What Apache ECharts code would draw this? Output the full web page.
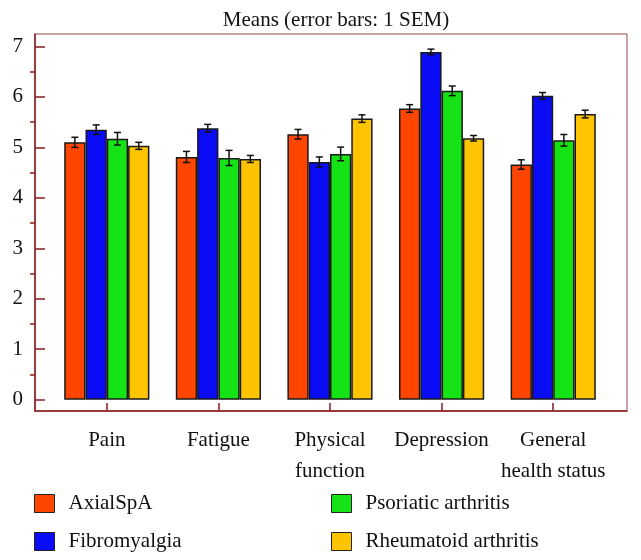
<!DOCTYPE html>
<html>
<head>
<meta charset="utf-8">
<script src="https://cdn.jsdelivr.net/npm/echarts@6/dist/echarts.min.js"></script>
<style>
html, body { margin: 0; padding: 0; background: #fff; }
#main { width: 641px; height: 560px; }
</style>
</head>
<body>
<div id="main"></div>
<script>
// data
var categories = ['Pain', 'Fatigue', 'Physical\nfunction', 'Depression', 'General\nhealth status'];
var groupNames = ['AxialSpA', 'Fibromyalgia', 'Psoriatic arthritis', 'Rheumatoid arthritis'];
var groupColors = ['#ff4500', '#0a0cf5', '#16e316', '#ffc400'];

var axialMean = [5.10, 4.81, 5.26, 5.77, 4.66];
var axialSem = [0.10, 0.11, 0.095, 0.076, 0.093];
var fibroMean = [5.35, 5.38, 4.71, 6.89, 6.02];
var fibroSem = [0.095, 0.075, 0.10, 0.056, 0.066];
var psoMean = [5.17, 4.79, 4.87, 6.12, 5.14];
var psoSem = [0.125, 0.15, 0.135, 0.095, 0.115];
var raMean = [5.03, 4.77, 5.57, 5.18, 5.66];
var raSem = [0.07, 0.07, 0.075, 0.055, 0.076];

var yTicks = [0, 1, 2, 3, 4, 5, 6, 7];
var yMinorTicks = [0.5, 1.5, 2.5, 3.5, 4.5, 5.5, 6.5];

var means = [axialMean, fibroMean, psoMean, raMean];
var sems = [axialSem, fibroSem, psoSem, raSem];

var yMin = -0.224, yMax = 7.246;
var barW = 21.3;
var axisColor = '#8c1d1d';
var font = '"Liberation Serif", "DejaVu Serif", serif';

var myChart = echarts.init(document.getElementById('main'));

function errorBars(k) {
    return function (params, api) {
        var x = api.value(0);
        var lo = api.coord([x, api.value(1)]);
        var hi = api.coord([x, api.value(2)]);
        var dx = (k - 1.5) * barW;
        var cx = lo[0] + dx;
        var cap = 3.5;
        var st = { stroke: '#111', lineWidth: 1.5 };
        return {
            type: 'group',
            children: [
                { type: 'line', shape: { x1: cx, y1: lo[1], x2: cx, y2: hi[1] }, style: st },
                { type: 'line', shape: { x1: cx - cap, y1: lo[1], x2: cx + cap, y2: lo[1] }, style: st },
                { type: 'line', shape: { x1: cx - cap, y1: hi[1], x2: cx + cap, y2: hi[1] }, style: st }
            ]
        };
    };
}

var series = [];
for (var k = 0; k < 4; k++) {
    series.push({
        name: groupNames[k],
        type: 'bar',
        xAxisIndex: 1,
        yAxisIndex: 2,
        barWidth: barW,
        barGap: '0%',
        itemStyle: { color: groupColors[k], borderColor: '#1a1a1a', borderWidth: 1.5 },
        data: means[k]
    });
}
for (var k = 0; k < 4; k++) {
    var errData = [];
    for (var i = 0; i < categories.length; i++) {
        errData.push([i, means[k][i] - sems[k][i], means[k][i] + sems[k][i]]);
    }
    series.push({
        name: 'err' + k,
        type: 'custom',
        xAxisIndex: 1,
        yAxisIndex: 2,
        z: 10,
        renderItem: errorBars(k),
        encode: { x: 0, y: [1, 2] },
        data: errData
    });
}

var legendText = { fontFamily: font, fontSize: 21, color: '#111', padding: [0, 0, 0, 9] };

myChart.setOption({
    animation: false,
    title: {
        text: 'Means (error bars: 1 SEM)',
        left: 331,
        textAlign: 'center',
        top: 5,
        textStyle: { fontFamily: font, fontSize: 21, fontWeight: 'normal', color: '#111' }
    },
    legend: [{
        left: 34, top: 493, orient: 'vertical', itemGap: 17, padding: 0,
        icon: 'rect', itemWidth: 20, itemHeight: 18,
        itemStyle: { borderColor: '#222', borderWidth: 1 },
        textStyle: legendText,
        data: [groupNames[0], groupNames[1]]
    }, {
        left: 331, top: 493, orient: 'vertical', itemGap: 17, padding: 0,
        icon: 'rect', itemWidth: 20, itemHeight: 18,
        itemStyle: { borderColor: '#222', borderWidth: 1 },
        textStyle: legendText,
        data: [groupNames[2], groupNames[3]]
    }],
    grid: [
        // outer box with the y axis
        { left: 35, right: 14, top: 34, bottom: 149, show: true, borderColor: '#9a4747', borderWidth: 1 },
        // bar area
        { left: 51, right: 32, top: 34, bottom: 149 }
    ],
    xAxis: [{
        gridIndex: 0, type: 'value', min: 0, max: 1,
        axisLine: { show: true, onZero: false, lineStyle: { color: axisColor, width: 1.5 } },
        axisTick: { show: false }, axisLabel: { show: false }, splitLine: { show: false }
    }, {
        gridIndex: 1, type: 'category', data: categories,
        axisLine: { show: false, onZero: false },
        axisTick: { show: true, inside: true, alignWithLabel: true, length: 8, lineStyle: { color: axisColor, width: 1.5 } },
        axisLabel: { interval: 0, margin: 14, fontFamily: font, fontSize: 21, lineHeight: 31, color: '#111' },
        splitLine: { show: false }
    }],
    yAxis: [{
        gridIndex: 0, type: 'value', min: yMin, max: yMax,
        axisLine: { show: true, onZero: false, lineStyle: { color: axisColor, width: 1.5 } },
        axisTick: { show: true, inside: true, length: 10, customValues: yTicks, lineStyle: { color: axisColor, width: 1.5 } },
        axisLabel: { customValues: yTicks, margin: 12, fontFamily: font, fontSize: 21, color: '#111' },
        splitLine: { show: false }
    }, {
        gridIndex: 0, type: 'value', min: yMin, max: yMax,
        axisLine: { show: false },
        axisTick: { show: true, inside: true, length: 5, customValues: yMinorTicks, lineStyle: { color: axisColor, width: 1.5 } },
        axisLabel: { show: false },
        splitLine: { show: false }
    }, {
        gridIndex: 1, type: 'value', min: yMin, max: yMax, show: false
    }],
    series: series
});
</script>
</body>
</html>
